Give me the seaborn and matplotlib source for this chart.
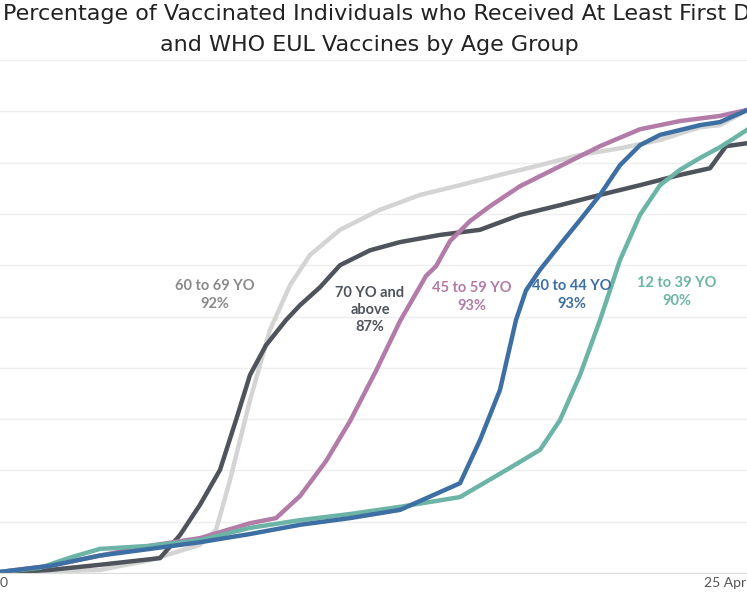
import pandas as pd
import matplotlib.pyplot as plt
import seaborn as sns

# days since start, cumulative % with at least first dose
days_1239 = [0, 20, 35, 50, 75, 100, 125, 150, 175, 200, 230, 255, 270, 280, 290, 300, 310, 320, 330, 340, 350, 360, 374]
pct_1239 = [0.2, 1, 3, 4.7, 5.3, 6.4, 8.8, 10.3, 11.5, 12.9, 14.8, 20.5, 24, 29.8, 38.6, 49.3, 61, 69.8, 75.6, 78.6, 80.9, 83, 86.5]

days_4044 = [0, 25, 50, 75, 100, 125, 150, 175, 200, 230, 240, 250, 258, 263, 270, 280, 290, 300, 310, 320, 330, 350, 360, 374]
pct_4044 = [0.2, 1.4, 3.4, 4.7, 6, 7.6, 9.4, 10.7, 12.3, 17.5, 25.9, 35.7, 49.3, 55.1, 59.1, 64, 68.8, 73.7, 79.5, 83.4, 85.4, 87.3, 87.9, 90.3]

days_4559 = [0, 25, 50, 75, 100, 125, 138, 150, 163, 175, 188, 200, 213, 218, 225, 235, 245, 260, 280, 300, 320, 340, 360, 374]
pct_4559 = [0.2, 1.4, 3.4, 5.3, 6.8, 9.7, 10.7, 15, 21.8, 29.6, 39.4, 49.1, 57.9, 59.8, 64.7, 68.6, 71.5, 75.4, 79.3, 83.2, 86.5, 88.1, 89.1, 90.3]

days_6069 = [0, 50, 75, 100, 108, 115, 125, 135, 145, 155, 170, 190, 210, 230, 250, 270, 290, 310, 330, 350, 360, 374]
pct_6069 = [0, 0.6, 2.5, 5.5, 8.4, 18.1, 33.7, 47.4, 56.1, 62, 66.9, 70.8, 73.7, 75.6, 77.6, 79.5, 81.5, 82.8, 84.4, 86.9, 87.3, 90.3]

days_70 = [0, 25, 50, 80, 90, 100, 110, 118, 125, 133, 143, 150, 160, 170, 185, 200, 220, 240, 260, 280, 300, 320, 340, 355, 363, 374]
pct_70 = [0, 0.6, 1.6, 2.9, 7.4, 13.3, 20.1, 29.8, 38.6, 44.4, 49.3, 52.2, 55.7, 60, 62.9, 64.5, 65.9, 66.9, 69.8, 71.7, 73.7, 75.6, 77.6, 78.9, 83.2, 83.8]

series = [
    ('12 to 39 YO', days_1239, pct_1239, '#6cb5a6'),
    ('40 to 44 YO', days_4044, pct_4044, '#3e6fa3'),
    ('45 to 59 YO', days_4559, pct_4559, '#b27ba8'),
    ('60 to 69 YO', days_6069, pct_6069, '#d4d4d4'),
    ('70 YO and above', days_70, pct_70, '#4f535b'),
]
draw_order = ['60 to 69 YO', '70 YO and above', '45 to 59 YO', '12 to 39 YO', '40 to 44 YO']

labels = [
    ('60 to 69 YO\n92%', 107.5, 54.2, '#8a8a8a'),
    ('70 YO and\nabove\n87%', 185, 51.3, '#4f535b'),
    ('45 to 59 YO\n93%', 236, 53.8, '#b27ba8'),
    ('40 to 44 YO\n93%', 286, 54.2, '#3e6fa3'),
    ('12 to 39 YO\n90%', 338.5, 54.8, '#6cb5a6'),
]

sns.set_style('white')
plt.rcParams['font.family'] = ['Lato', 'DejaVu Sans']

fig = plt.figure(figsize=(7.47, 5.98), dpi=100)
ax = fig.add_axes([0, 25 / 598, 1, 513 / 598])

lookup = {s[0]: s for s in series}
for name in draw_order:
    _, d, p, c = lookup[name]
    df = pd.DataFrame({'day': d, 'pct': p})
    sns.lineplot(data=df, x='day', y='pct', color=c, linewidth=3.2, ax=ax)

for txt, x, y, c in labels:
    ax.text(x, y, txt, color=c, ha='center', va='center', fontsize=10.5,
            fontweight='bold', linespacing=1.3)

ax.set_xlim(0, 373.5)
ax.set_ylim(0, 100)
ax.set_yticks(range(0, 101, 10))
ax.set_yticklabels([])
ax.tick_params(axis='y', length=0)
ax.grid(axis='y', color='#eeeeee', linewidth=1)
ax.set_xticks([0, 362.5])
ax.set_xticklabels(['30', '25 Apr'], fontsize=10, color='#555555')
ax.tick_params(axis='x', length=0, pad=3)
ax.set_xlabel('')
ax.set_ylabel('')
for side in ['left', 'right', 'top']:
    ax.spines[side].set_visible(False)
ax.spines['bottom'].set_color('#dddddd')

fig.text(0.004, 0.976, 'Percentage of Vaccinated Individuals who Received At Least First Dose of FDA',
         ha='left', va='center', fontsize=16, family='DejaVu Sans', color='#222222')
fig.text(0.495, 0.924, 'and WHO EUL Vaccines by Age Group',
         ha='center', va='center', fontsize=16, family='DejaVu Sans', color='#222222')

fig.savefig('out.png', dpi=100)
